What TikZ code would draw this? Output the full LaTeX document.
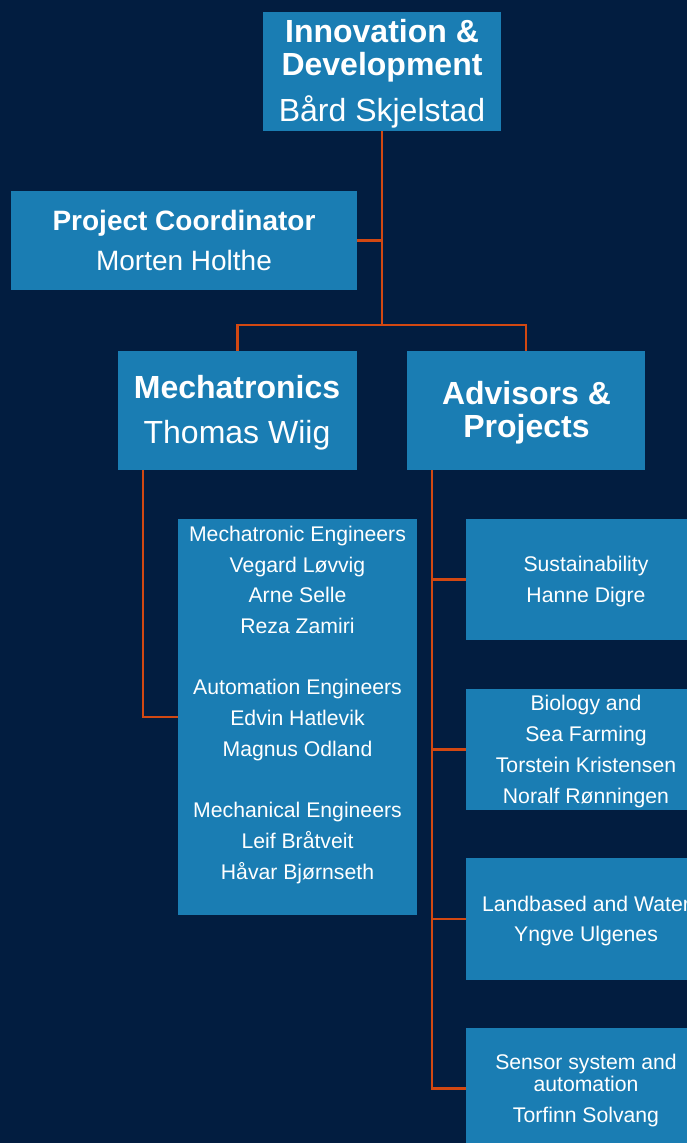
\documentclass[tikz,border=0pt]{standalone}
\usepackage{fontspec}
\setmainfont{Liberation Sans}
\definecolor{bgnavy}{RGB}{2,29,64}
\definecolor{boxblue}{RGB}{26,125,179}
\definecolor{linkorange}{RGB}{210,72,18}
\begin{document}
\begin{tikzpicture}[x=1pt,y=-1pt,
  box/.style={fill=boxblue,draw=none,inner sep=0pt,minimum width=#1},
  box/.default=239pt,
  txt/.style={text=white,align=center,inner sep=0pt},
  big/.style={txt,font=\fontsize{32}{33}\selectfont},
  mid/.style={txt,font=\fontsize{28}{40}\selectfont},
  small/.style={txt,font=\fontsize{21.2}{31}\selectfont},
  link/.style={draw=linkorange,line width=2.4pt}]
\clip (0,0) rectangle (687,1143);
\fill[bgnavy] (0,0) rectangle (687,1143);

% boxes
\node[box=238pt,minimum height=119pt] (top) at (382,71.5) {};
\node[box=346pt,minimum height=99pt] (coord) at (184,240.5) {};
\node[box=239pt,minimum height=119pt] (mech) at (237.5,410.5) {};
\node[box=238pt,minimum height=119pt] (adv) at (526,410.5) {};
\node[box=239pt,minimum height=396pt] (eng) at (297.5,717) {};
\node[box=240pt,minimum height=121pt] (sus) at (586,579.5) {};
\node[box=240pt,minimum height=121pt] (bio) at (586,749.5) {};
\node[box=240pt,minimum height=122pt] (land) at (586,919) {};
\node[box=240pt,minimum height=121pt] (sens) at (586,1088.5) {};

% texts
\node[big] (top-t) at (382,74) {\bfseries Innovation \&\\\bfseries Development\\[13pt]Bård Skjelstad};
\node[mid] (coord-t) at (184,240) {\bfseries Project Coordinator\\Morten Holthe};
\node[big,font=\fontsize{32}{45}\selectfont] (mech-t) at (237,412.9) {\bfseries Mechatronics\\Thomas Wiig};
\node[big,font=\bfseries\fontsize{32}{33}\selectfont] (adv-t) at (526.5,412.9) {Advisors \&\\Projects};
\node[txt,font=\fontsize{21.2}{30.7}\selectfont] (eng-t) at (297.5,704.8) {Mechatronic Engineers\\Vegard Løvvig\\Arne Selle\\Reza Zamiri\\[30.7pt]Automation Engineers\\Edvin Hatlevik\\Magnus Odland\\[30.7pt]Mechanical Engineers\\Leif Bråtveit\\Håvar Bjørnseth};
\node[small] (sus-t) at (586,581.6) {Sustainability\\Hanne Digre};
\node[small] (bio-t) at (586,751.6) {Biology and\\Sea Farming\\Torstein Kristensen\\Noralf Rønningen};
\node[small,font=\fontsize{21.2}{30}\selectfont] (land-t) at (586,921.1) {Landbased and Water\\Yngve Ulgenes};
\node[small,font=\fontsize{21.2}{22}\selectfont] (sens-t) at (586,1090.6) {Sensor system and\\automation\\[9pt]Torfinn Solvang};

% connectors
\coordinate (j1) at (382,325);
\draw[link] (top.south) -- (j1);
\draw[link] (coord.east) -- (coord.east -| top.south);
\draw[link] (mech.north) |- (j1) -| (adv.north);
\draw[link] ([xshift=25pt]mech.south west) |- (eng.west);
\coordinate (a0) at ([xshift=25pt]adv.south west);
\draw[link] (a0) |- (sens.west);
\draw[link] (a0 |- sus.west) -- (sus.west);
\draw[link] (a0 |- bio.west) -- (bio.west);
\draw[link] (a0 |- land.west) -- (land.west);
\end{tikzpicture}
\end{document}
